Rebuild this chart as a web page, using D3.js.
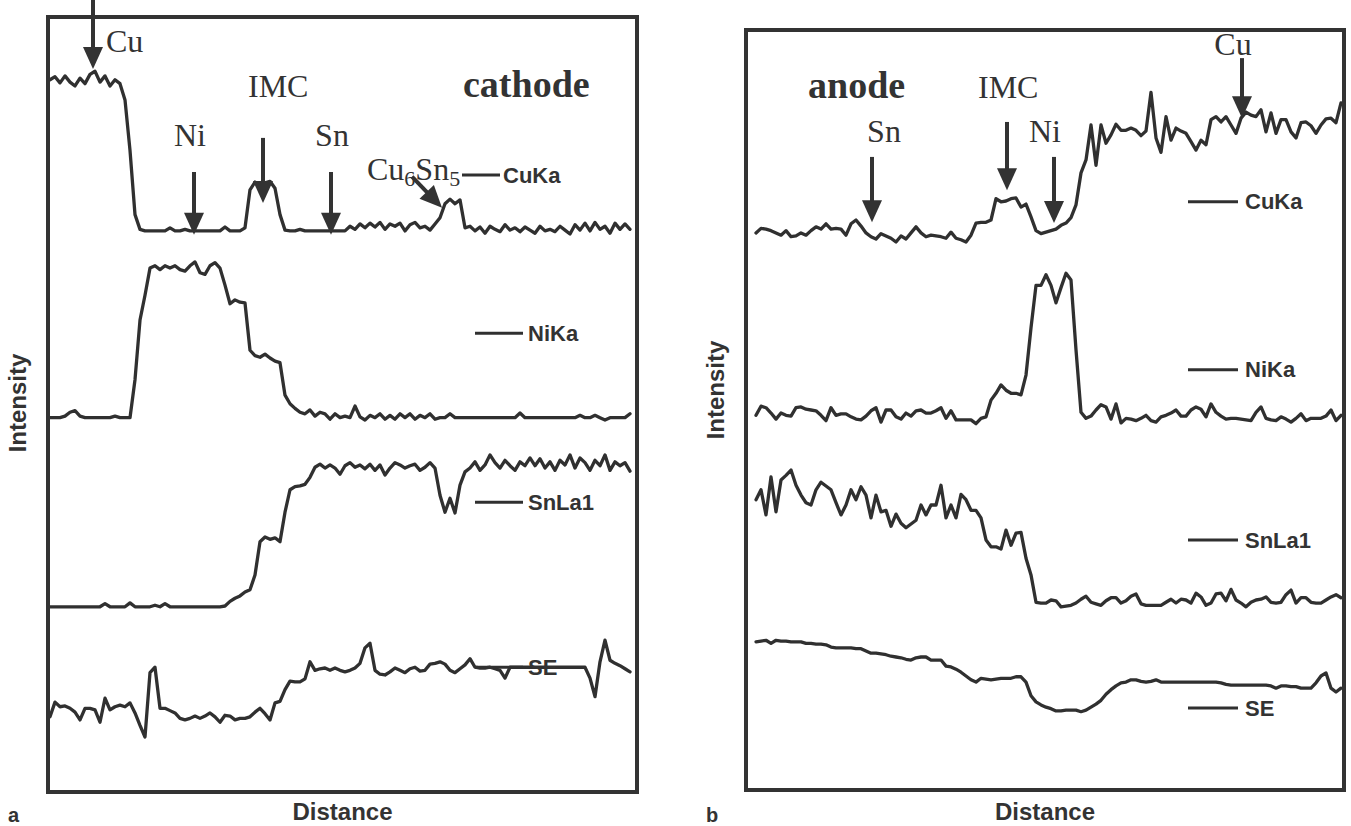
<!DOCTYPE html>
<html>
<head>
<meta charset="utf-8">
<script src="https://cdn.jsdelivr.net/npm/d3@7"></script>
<style>
  body { margin: 0; background: #fff; }
  svg { display: block; }
  .trace { fill: none; stroke: #303030; stroke-width: 3.3; stroke-linejoin: round; stroke-linecap: round; }
  .frame { fill: none; stroke: #333; stroke-width: 4; }
  .serif { font-family: "Liberation Serif", "Times New Roman", serif; fill: #333; }
  .sans { font-family: "Liberation Sans", Arial, sans-serif; font-weight: bold; fill: #333; }
</style>
</head>
<body>
<div id="chart"></div>
<script>
// line scan traces, one sample per step along the scan; intensity in % of plot height
const traceNames = ["CuKa", "NiKa", "SnLa1", "SE"];

// ---- panel a (cathode) ----
const cuKaA = [91.9, 92.3, 91.5, 92.4, 91.6, 91.1, 92.1, 91.4, 92.6, 93.0, 91.6, 92.4, 91.1, 91.9, 91.4,
  89.3, 82.8, 74.5, 72.6, 72.4, 72.4, 72.4, 72.4, 72.4, 72.8, 72.4, 72.4, 72.6, 72.4, 72.4,
  72.4, 72.4, 72.4, 72.4, 72.4, 72.9, 72.4, 72.4, 72.4, 72.8, 77.7, 78.7, 78.2, 78.6, 78.8,
  77.9, 74.5, 72.5, 72.4, 72.4, 72.6, 72.4, 72.4, 72.4, 72.4, 72.4, 72.4, 72.4, 72.4, 72.4,
  73.0, 72.6, 73.3, 72.8, 73.4, 72.9, 73.5, 72.6, 73.3, 73.0, 73.4, 72.4, 73.2, 73.5, 72.8,
  73.0, 72.5, 73.3, 74.1, 75.9, 76.5, 75.9, 76.4, 72.8, 73.0, 72.4, 72.9, 72.1, 73.0, 72.6,
  72.3, 73.2, 72.5, 72.8, 72.3, 72.9, 72.5, 72.1, 73.0, 72.4, 72.6, 72.3, 73.0, 72.5, 72.0,
  73.2, 72.5, 73.4, 72.4, 73.5, 72.6, 73.0, 72.1, 73.4, 72.6, 73.3, 72.6];

const niKaA = [48.3, 48.3, 48.3, 48.5, 49.0, 49.2, 48.5, 48.3, 48.3, 48.3, 48.3, 48.3, 48.3, 48.5, 48.3,
  48.3, 48.3, 53.2, 60.9, 64.1, 67.6, 67.9, 67.4, 67.9, 67.6, 67.9, 67.4, 67.2, 67.9, 68.4,
  67.0, 66.8, 67.9, 68.3, 67.6, 65.4, 63.0, 63.5, 63.2, 63.1, 57.0, 56.3, 56.1, 56.5, 56.0,
  55.6, 55.4, 51.2, 50.1, 49.5, 49.0, 48.8, 49.3, 48.5, 49.0, 48.8, 48.1, 48.8, 48.3, 48.5,
  48.3, 49.8, 48.4, 48.0, 48.6, 48.3, 48.8, 48.1, 48.6, 48.1, 48.8, 48.3, 48.8, 48.1, 48.6,
  48.3, 48.8, 48.1, 48.3, 48.3, 48.8, 48.3, 48.3, 48.3, 48.3, 48.3, 48.3, 48.3, 48.3, 48.3,
  48.3, 48.3, 48.3, 48.3, 48.9, 48.3, 48.3, 48.3, 48.3, 48.3, 48.3, 48.3, 48.3, 48.3, 48.3,
  48.3, 48.6, 48.3, 48.3, 48.6, 48.3, 48.0, 48.3, 48.3, 48.3, 48.3, 48.8];

const snLa1A = [23.9, 23.9, 23.9, 23.9, 23.9, 23.9, 23.9, 23.9, 23.9, 23.9, 23.9, 24.3, 23.9, 23.9, 23.9,
  23.9, 24.4, 23.9, 23.9, 23.9, 23.9, 24.1, 23.9, 24.3, 23.9, 23.9, 23.9, 23.9, 23.9, 23.9,
  23.9, 23.9, 23.9, 23.9, 23.9, 24.0, 24.6, 25.0, 25.3, 25.8, 26.1, 28.0, 32.3, 32.9, 32.6,
  32.8, 32.3, 36.1, 39.0, 39.4, 39.5, 39.7, 40.6, 41.9, 42.3, 41.8, 42.2, 41.8, 41.0, 42.1,
  42.5, 41.9, 42.2, 41.7, 42.3, 41.5, 42.2, 40.9, 41.8, 42.5, 42.2, 41.8, 42.1, 42.3, 41.5,
  41.9, 42.5, 41.8, 38.3, 36.1, 37.9, 36.0, 39.6, 41.3, 41.8, 42.6, 41.5, 42.2, 43.5, 42.5,
  41.8, 42.8, 42.1, 41.5, 42.6, 42.1, 43.1, 42.1, 43.0, 41.8, 42.6, 41.5, 42.8, 42.2, 43.5,
  41.8, 43.1, 42.5, 41.5, 42.8, 42.1, 43.5, 41.5, 42.6, 42.1, 42.5, 41.4];

const seA = [9.7, 11.6, 11.0, 11.1, 10.8, 10.3, 9.3, 10.8, 10.8, 10.6, 9.0, 12.1, 10.6, 11.0, 11.2,
  11.0, 11.5, 10.2, 8.6, 7.1, 15.4, 16.1, 10.8, 10.8, 10.5, 10.2, 9.5, 9.3, 9.5, 9.8,
  9.5, 9.8, 10.2, 9.7, 9.0, 9.9, 9.8, 9.3, 9.5, 9.5, 9.7, 10.3, 10.8, 10.1, 9.3,
  11.5, 11.7, 13.2, 14.3, 14.2, 14.2, 14.6, 16.8, 15.7, 15.9, 16.0, 15.7, 16.0, 15.7, 15.5,
  15.7, 16.0, 16.6, 18.6, 19.2, 15.7, 15.2, 15.1, 15.5, 16.0, 15.7, 15.4, 15.9, 16.1, 15.6,
  15.7, 16.5, 16.6, 16.8, 16.5, 15.7, 15.4, 15.9, 16.4, 17.2, 16.1, 16.0, 16.0, 16.1, 15.9,
  15.7, 14.7, 16.1, 16.1, 16.1, 16.1, 16.1, 16.1, 16.1, 16.1, 16.1, 16.1, 16.1, 16.1, 16.1,
  16.1, 16.1, 16.1, 14.7, 12.3, 16.8, 19.6, 17.0, 16.6, 16.3, 15.9, 15.5];

// ---- panel b (anode) ----
const cuKaB = [73.3, 73.9, 73.8, 73.6, 73.3, 73.0, 73.6, 72.8, 72.9, 73.3, 73.0, 73.6, 74.1, 73.8, 74.5,
  73.8, 73.9, 73.8, 73.0, 74.5, 75.0, 74.2, 73.3, 72.8, 72.5, 73.2, 72.9, 72.6, 72.1, 72.9,
  72.5, 73.3, 74.1, 73.3, 72.8, 73.0, 72.9, 72.8, 72.6, 73.4, 72.6, 72.4, 72.1, 73.0, 74.6,
  74.7, 74.7, 75.0, 77.8, 77.4, 77.5, 77.8, 77.9, 76.7, 77.1, 75.4, 73.6, 73.2, 73.4, 73.6,
  73.8, 74.3, 74.6, 75.3, 77.0, 81.2, 82.9, 87.5, 82.2, 87.5, 85.1, 86.2, 87.6, 86.8, 86.8,
  87.1, 86.8, 86.1, 86.7, 91.8, 85.8, 83.9, 88.6, 85.5, 87.1, 86.7, 86.4, 85.3, 84.2, 85.5,
  84.9, 88.2, 88.6, 87.9, 88.6, 87.5, 86.4, 88.4, 89.2, 88.8, 88.6, 89.5, 86.6, 89.1, 86.4,
  88.2, 88.2, 86.6, 85.8, 87.8, 87.9, 87.4, 86.4, 87.5, 88.3, 88.4, 87.8, 90.4];

const niKaB = [49.3, 50.5, 50.3, 49.6, 48.8, 49.6, 49.3, 49.2, 50.3, 50.4, 50.1, 50.0, 49.9, 49.3, 48.6,
  50.3, 49.3, 49.5, 49.5, 49.1, 48.8, 48.7, 49.2, 49.9, 50.3, 48.4, 50.0, 50.0, 49.1, 48.8,
  49.6, 49.2, 49.9, 50.0, 49.6, 49.6, 49.9, 50.3, 48.9, 49.9, 48.7, 48.7, 48.7, 48.7, 48.2,
  48.9, 49.1, 51.3, 52.2, 53.3, 52.6, 52.2, 52.2, 52.0, 54.6, 60.8, 66.4, 66.4, 67.8, 66.4,
  64.1, 66.1, 68.0, 67.1, 57.9, 49.7, 48.9, 49.2, 50.0, 50.7, 50.4, 48.8, 50.8, 48.3, 48.9,
  48.8, 48.6, 48.9, 49.3, 48.6, 48.4, 49.1, 49.3, 49.6, 50.0, 49.2, 49.2, 50.0, 50.4, 50.1,
  49.1, 50.8, 49.7, 49.2, 48.8, 48.9, 48.9, 48.8, 48.7, 48.6, 49.7, 50.4, 48.9, 48.7, 48.6,
  49.1, 48.8, 48.4, 48.9, 49.5, 48.6, 48.9, 48.9, 48.9, 49.2, 50.0, 48.6, 49.3];

const snLa1B = [38.2, 39.5, 36.2, 41.2, 36.6, 40.8, 41.4, 42.1, 40.1, 38.8, 37.8, 37.5, 39.5, 40.5, 40.0,
  39.5, 37.8, 36.2, 37.5, 39.5, 38.2, 39.9, 38.8, 35.8, 38.8, 36.6, 36.8, 34.7, 36.3, 35.1,
  34.5, 35.0, 35.5, 37.5, 36.2, 37.5, 37.5, 40.1, 35.8, 37.5, 35.8, 38.9, 38.2, 36.8, 36.8,
  35.8, 32.9, 32.0, 32.0, 31.7, 34.2, 32.2, 33.8, 33.9, 30.5, 28.3, 24.7, 24.6, 24.6, 25.0,
  24.9, 24.1, 24.2, 24.3, 24.6, 25.1, 25.5, 24.7, 24.5, 24.3, 24.9, 25.3, 25.3, 24.6, 24.9,
  25.5, 25.8, 24.5, 24.3, 24.3, 24.3, 24.3, 24.7, 25.1, 24.6, 25.1, 25.0, 24.6, 25.9, 25.4,
  24.3, 24.6, 25.8, 25.9, 24.9, 26.4, 25.0, 24.6, 24.1, 24.7, 25.0, 25.1, 25.4, 24.7, 24.6,
  24.7, 25.7, 26.3, 24.6, 25.3, 25.3, 24.7, 24.6, 24.6, 25.0, 25.4, 25.7, 25.3];

const seB = [19.5, 19.6, 19.7, 19.3, 19.7, 19.6, 19.6, 19.5, 19.5, 19.5, 19.3, 19.3, 19.2, 19.2, 19.1,
  18.8, 18.7, 18.7, 18.7, 18.7, 18.6, 18.6, 18.3, 18.0, 18.0, 17.9, 17.8, 17.6, 17.5, 17.4,
  17.2, 17.1, 17.4, 17.5, 17.5, 17.1, 17.1, 17.1, 16.3, 16.2, 15.9, 15.5, 15.0, 14.5, 14.2,
  14.7, 14.6, 14.5, 14.6, 14.7, 14.7, 14.7, 14.9, 14.9, 14.2, 12.4, 11.6, 11.2, 10.9, 10.7,
  10.4, 10.4, 10.5, 10.5, 10.5, 10.3, 10.5, 10.9, 11.3, 11.8, 12.6, 13.2, 13.7, 14.1, 14.2,
  14.5, 14.5, 14.3, 14.2, 14.3, 14.5, 14.2, 14.2, 14.2, 14.2, 14.2, 14.2, 14.2, 14.2, 14.2,
  14.2, 14.2, 14.2, 14.1, 13.9, 13.8, 13.8, 13.8, 13.8, 13.8, 13.8, 13.8, 13.8, 13.7, 13.4,
  13.7, 13.7, 13.6, 13.6, 13.4, 13.4, 13.4, 14.1, 15.0, 15.4, 13.4, 12.9, 13.4];

// annotations, in (step, intensity) units
const labelsA = [
  { text: "Cu", d: 11.2, v: 95.5, anchor: "start" },
  { text: "Ni", d: 28.0, v: 83.4, anchor: "middle" },
  { text: "IMC", d: 39.6, v: 89.7, anchor: "start" },
  { text: "Sn", d: 56.4, v: 83.4, anchor: "middle" }
];
const arrowsA = [
  { d1: 8.6, v1: 102.2, d2: 8.6, v2: 93.3 },
  { d1: 28.8, v1: 80.0, d2: 28.8, v2: 71.9 },
  { d1: 42.6, v1: 84.4, d2: 42.6, v2: 76.0 },
  { d1: 56.2, v1: 80.0, d2: 56.2, v2: 71.9 },
  { d1: 72.4, v1: 79.4, d2: 78.4, v2: 75.4 }
];
const labelsB = [
  { text: "Sn", d: 25.6, v: 85.3, anchor: "middle" },
  { text: "IMC", d: 44.4, v: 91.1, anchor: "start" },
  { text: "Ni", d: 57.8, v: 85.3, anchor: "middle" },
  { text: "Cu", d: 95.4, v: 96.7, anchor: "middle" }
];
const arrowsB = [
  { d1: 23.2, v1: 83.3, d2: 23.2, v2: 74.7 },
  { d1: 50.2, v1: 87.9, d2: 50.2, v2: 78.9 },
  { d1: 59.6, v1: 83.3, d2: 59.6, v2: 74.6 },
  { d1: 97.2, v1: 96.3, d2: 97.2, v2: 88.4 }
];
const legendA = [
  { d1: 82.4, d2: 90.0, v: 79.6, dt: 90.6 },
  { d1: 85.0, d2: 94.6, v: 59.2, dt: 95.6 },
  { d1: 85.0, d2: 94.6, v: 37.4, dt: 95.6 },
  { d1: 85.0, d2: 94.6, v: 16.1, dt: 95.6 }
];
const legendB = [
  { d1: 86.4, d2: 96.4, v: 77.4, dt: 97.8 },
  { d1: 86.4, d2: 96.4, v: 55.3, dt: 97.8 },
  { d1: 86.4, d2: 96.4, v: 32.9, dt: 97.8 },
  { d1: 86.4, d2: 96.4, v: 10.8, dt: 97.8 }
];

const width = 1351, height = 826;

const svg = d3.select("#chart").append("svg")
  .attr("width", width)
  .attr("height", height);

const drawArrow = (g, x1, y1, x2, y2) => {
  const len = Math.hypot(x2 - x1, y2 - y1);
  const ux = (x2 - x1) / len, uy = (y2 - y1) / len;
  const hl = 22, hw = 10;
  const bx = x2 - ux * hl, by = y2 - uy * hl;
  g.append("line")
    .attr("x1", x1).attr("y1", y1)
    .attr("x2", bx + ux * 2).attr("y2", by + uy * 2)
    .attr("stroke", "#333")
    .attr("stroke-width", 4);
  g.append("path")
    .attr("d", `M${x2},${y2}L${bx - uy * hw},${by + ux * hw}L${bx + uy * hw},${by - ux * hw}Z`)
    .attr("fill", "#333");
};

const drawPanel = (p) => {
  const x = d3.scaleLinear().domain(p.xDomain).range([p.left, p.right]);
  const y = d3.scaleLinear().domain([0, 100]).range([p.bottom, p.top]);
  const g = svg.append("g");

  const line = d3.line()
    .x((d, i) => x(i))
    .y(d => y(d));

  g.selectAll("path.trace")
    .data(p.series)
    .join("path")
    .attr("class", "trace")
    .attr("d", line);

  // frame
  g.append("rect")
    .attr("class", "frame")
    .attr("x", p.left).attr("y", p.top)
    .attr("width", p.right - p.left)
    .attr("height", p.bottom - p.top);

  // legend entries
  p.legend.forEach((l, i) => {
    g.append("line")
      .attr("x1", x(l.d1)).attr("x2", x(l.d2))
      .attr("y1", y(l.v)).attr("y2", y(l.v))
      .attr("stroke", "#303030")
      .attr("stroke-width", 3);
    g.append("text")
      .attr("class", "sans")
      .attr("x", x(l.dt))
      .attr("y", y(l.v))
      .attr("dy", "0.35em")
      .attr("font-size", 22)
      .text(traceNames[i]);
  });

  // element labels and arrows
  p.labels.forEach(l => {
    g.append("text")
      .attr("class", "serif")
      .attr("x", x(l.d)).attr("y", y(l.v))
      .attr("text-anchor", l.anchor)
      .attr("font-size", 32)
      .text(l.text);
  });
  p.arrows.forEach(a => drawArrow(g, x(a.d1), y(a.v1), x(a.d2), y(a.v2)));

  g.append("text")
    .attr("class", "serif")
    .attr("x", x(p.side.d)).attr("y", y(p.side.v))
    .attr("font-size", 38)
    .attr("font-weight", "bold")
    .text(p.side.text);

  // axis titles
  g.append("text")
    .attr("class", "sans")
    .attr("x", (p.left + p.right) / 2)
    .attr("y", 820)
    .attr("text-anchor", "middle")
    .attr("font-size", 24)
    .text("Distance");

  g.append("text")
    .attr("class", "sans")
    .attr("transform", `translate(${p.left - 22}, ${p.intensityY}) rotate(-90)`)
    .attr("text-anchor", "middle")
    .attr("font-size", 24)
    .text("Intensity");

  g.append("text")
    .attr("class", "sans")
    .attr("x", p.left - 40)
    .attr("y", 822)
    .attr("font-size", 20)
    .text(p.letter);

  return { x, y, g };
};

const panelA = drawPanel({
  series: [cuKaA, niKaA, snLa1A, seA],
  xDomain: [-0.4, 117.4],
  left: 48, right: 637, top: 17, bottom: 792,
  legend: legendA, labels: labelsA, arrows: arrowsA,
  side: { text: "cathode", d: 82.6, v: 89.7 },
  intensityY: 403, letter: "a"
});

// Cu6Sn5 label with subscripts
const cu6 = panelA.g.append("text")
  .attr("class", "serif")
  .attr("x", panelA.x(63.4))
  .attr("y", panelA.y(79.0))
  .attr("font-size", 32);
[["Cu", false], ["6", true], ["Sn", false], ["5", true]].forEach(([t, sub]) => {
  cu6.append("tspan")
    .attr("font-size", sub ? 22 : 32)
    .attr("dy", sub ? 6 : (t === "Sn" ? -6 : 0))
    .text(t);
});

drawPanel({
  series: [cuKaB, niKaB, snLa1B, seB],
  xDomain: [-2, 117.6],
  left: 746, right: 1344, top: 30, bottom: 790,
  legend: legendB, labels: labelsB, arrows: arrowsB,
  side: { text: "anode", d: 10.4, v: 91.1 },
  intensityY: 390, letter: "b"
});
</script>
</body>
</html>
